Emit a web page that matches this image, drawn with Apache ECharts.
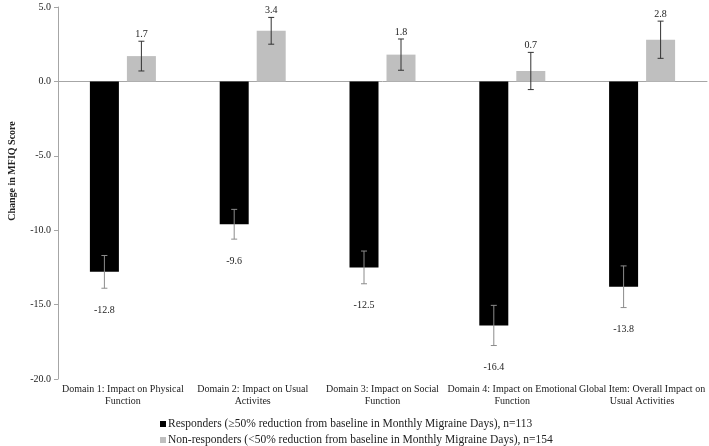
<!DOCTYPE html>
<html><head><meta charset="utf-8">
<script src="https://cdn.jsdelivr.net/npm/echarts@6/dist/echarts.min.js"></script>
<style>html,body{margin:0;padding:0;background:#fff}#c{width:709px;height:446px}</style>
</head><body><div id="c"></div>
<script>
const categories = ['Domain 1: Impact on Physical\nFunction','Domain 2: Impact on Usual\nActivites','Domain 3: Impact on Social\nFunction','Domain 4: Impact on Emotional\nFunction','Global Item: Overall Impact on\nUsual Activities'];
const responders = [-12.8, -9.6, -12.5, -16.4, -13.8];
const respondersErr = [1.1, 1.0, 1.1, 1.35, 1.4];
const nonResponders = [1.7, 3.4, 1.8, 0.7, 2.8];
const nonRespondersErr = [1.0, 0.9, 1.05, 1.25, 1.25];
const seriesNames = ['Responders (\u226550% reduction from baseline in Monthly Migraine Days), n=113','Non-responders (<50% reduction from baseline in Monthly Migraine Days), n=154'];
const yTicks = {min:-20, max:5, interval:5};

const FONT = '"Liberation Serif", "DejaVu Serif", serif';
const barW = 29, gapPx = 8;
const chart = echarts.init(document.getElementById('c'));

function errSeries(vals, errs, side, color) {
  return {
    type: 'custom', xAxisIndex: 0, z: 5,
    data: vals.map((v,i)=>[i, v, errs[i]]),
    renderItem: function(params, api){
      const i = api.value(0), v = api.value(1), e = api.value(2);
      const c = api.coord([i, v]);
      const x = c[0] + side * (barW + gapPx) / 2;
      const top = api.coord([i, v + e])[1];
      const bot = api.coord([i, v - e])[1];
      const cap = 3;
      const lbl = v >= 0 ? {x: x, y: top - 2, va: 'bottom'} : {x: x, y: bot + 17, va: 'top'};
      return {type: 'group', children: [
        {type:'line', shape:{x1:x,y1:top,x2:x,y2:bot}, style:{stroke:color, lineWidth:1}},
        {type:'line', shape:{x1:x-cap,y1:top,x2:x+cap,y2:top}, style:{stroke:color, lineWidth:1}},
        {type:'line', shape:{x1:x-cap,y1:bot,x2:x+cap,y2:bot}, style:{stroke:color, lineWidth:1}},
        {type:'text', style:{text: v.toFixed(1), x: lbl.x, y: lbl.y, align:'center', verticalAlign: lbl.va, fill:'#222', font: '10px ' + FONT}}
      ]};
    }
  };
}

const legendBase = {orient: 'vertical', left: 160, itemWidth: 6, itemHeight: 6, itemGap: 4, icon: 'rect', padding: 0,
  textStyle: {fontFamily: FONT, fontSize: 11.5, color: '#222', padding: [0,0,0,-3]}};

chart.setOption({
  animation: false,
  textStyle: {fontFamily: FONT},
  grid: {left: 58, right: 2, top: 7, bottom: 67},
  legend: [
    Object.assign({}, legendBase, {top: 418, data: [seriesNames[0]]}),
    Object.assign({}, legendBase, {top: 434, data: [seriesNames[1]]})
  ],
  graphic: [{
    type: 'text', x: 12, y: 171, rotation: Math.PI/2,
    style: {text: 'Change in MFIQ Score', align: 'center', verticalAlign: 'middle', fill: '#222', font: 'bold 10px ' + FONT}
  }],
  xAxis: [
    {type:'category', data: categories, axisLine:{onZero:true, lineStyle:{color:'#a6a6a6'}}, axisTick:{show:false}, axisLabel:{show:false}},
    {type:'category', data: categories, position:'bottom', axisLine:{show:false, onZero:false}, axisTick:{show:false},
     axisLabel:{interval:0, fontFamily: FONT, fontSize: 10, color:'#222', lineHeight: 12, margin: 4}}
  ],
  yAxis: {
    type:'value', min: yTicks.min, max: yTicks.max, interval: yTicks.interval,
    axisLine: {show:true, lineStyle:{color:'#a6a6a6'}},
    axisTick: {show:true, length: 4, lineStyle:{color:'#a6a6a6'}},
    splitLine: {show:false},
    axisLabel: {formatter: v => v.toFixed(1), fontFamily: FONT, fontSize: 10, color:'#222', margin: 7}
  },
  series: [
    {name: seriesNames[0], type:'bar', xAxisIndex:0, data: responders, barWidth: barW, barGap: (gapPx/barW*100)+'%', itemStyle:{color:'#000'}},
    {name: seriesNames[1], type:'bar', xAxisIndex:0, data: nonResponders, barWidth: barW, itemStyle:{color:'#bfbfbf'}},
    errSeries(responders, respondersErr, -1, '#8c8c8c'),
    errSeries(nonResponders, nonRespondersErr, 1, '#333')
  ]
});
</script></body></html>
